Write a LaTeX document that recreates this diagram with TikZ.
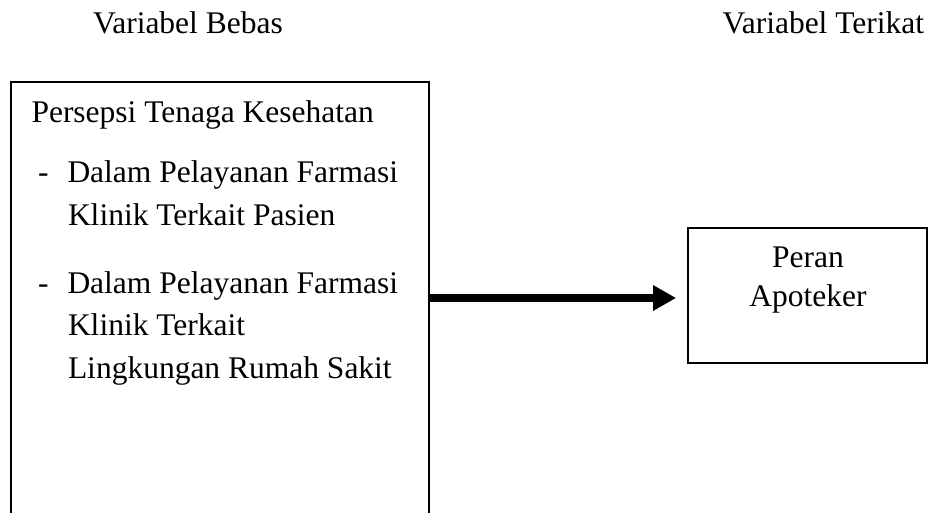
\documentclass[tikz,border=0pt]{standalone}
\usepackage{fontspec}
\setmainfont{Liberation Serif}
\usetikzlibrary{arrows.meta}
\tikzset{
  txt/.style={inner sep=0pt, outer sep=0pt, anchor=base west, font=\fontsize{31.5}{36}\selectfont},
  ctxt/.style={txt, anchor=base},
  frame/.style={draw=black, line width=1.6pt, inner sep=0pt, fill=none},
  bigarrow/.style={line width=8pt, -{Triangle[length=23pt,width=24pt]}}
}
\begin{document}
\begin{tikzpicture}[x=1pt,y=-1pt]
\useasboundingbox (0,0) rectangle (938,512);
\clip (0,0) rectangle (938,512);
\fill[white] (0,0) rectangle (938,512);
% titles
\node[txt] (tb) at (93,33.5) {Variabel Bebas};
\node[txt] (tt) at (722.5,33.5) {Variabel Terikat};
% left box
\node[frame, anchor=north west, minimum width=418pt, minimum height=470pt] (lb) at (10,81) {};
\node[txt] (l1) at (31.5,122) {Persepsi Tenaga Kesehatan};
\node[txt] (d1) at (38,182) {-};
\node[txt] (l2) at (67.5,182) {Dalam Pelayanan Farmasi};
\node[txt] (l3) at (68,225) {Klinik Terkait Pasien};
\node[txt] (d2) at (38,293.5) {-};
\node[txt] (l4) at (67.5,293.5) {Dalam Pelayanan Farmasi};
\node[txt] (l5) at (68,335.5) {Klinik Terkait};
\node[txt] (l6) at (68,378) {Lingkungan Rumah Sakit};
% right box
\node[frame, minimum width=239pt, minimum height=135pt] (rb) at (807.5,295.5) {};
\node[ctxt] (r1) at (808,267.5) {Peran};
\node[ctxt] (r2) at (808,306.5) {Apoteker};
% arrow
\draw[bigarrow, shorten >=11pt] (lb.east |- 0,298) -- (rb.west |- 0,298);
\end{tikzpicture}
\end{document}
